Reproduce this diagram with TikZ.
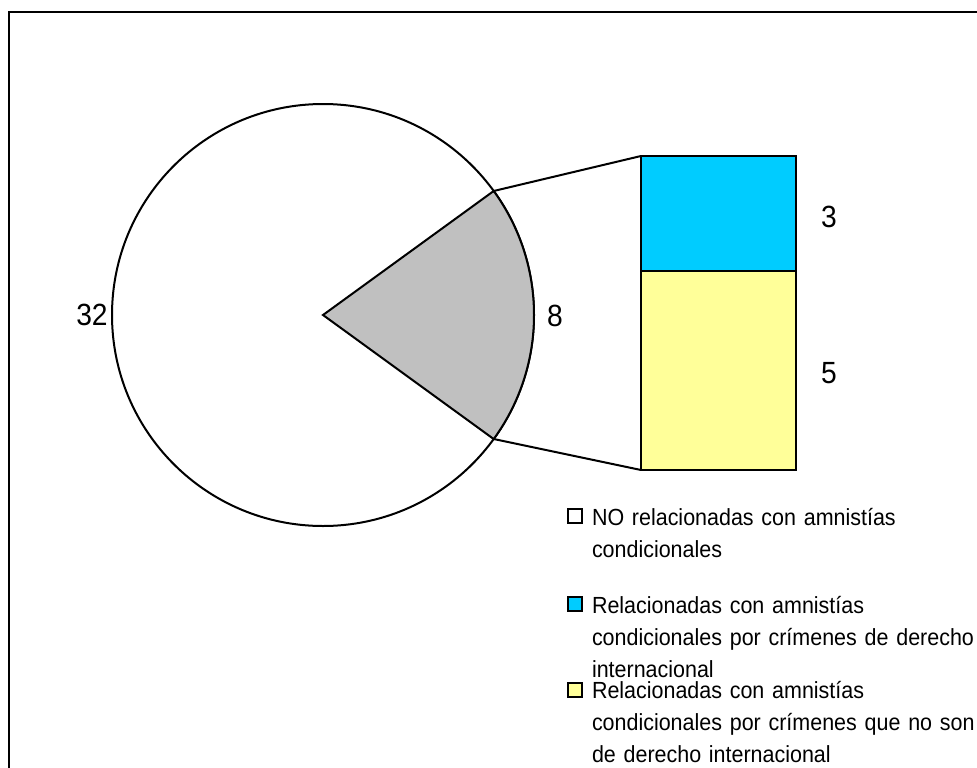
\documentclass[tikz,border=0pt]{standalone}
\usepackage{fontspec}
\setmainfont{Liberation Sans}[FakeStretch=0.92]
\definecolor{slicegray}{HTML}{C0C0C0}
\definecolor{barblue}{HTML}{00CCFF}
\definecolor{baryellow}{HTML}{FFFF99}
\begin{document}
\begin{tikzpicture}[x=0.75pt,y=-0.75pt,line width=1.5pt,
    numlabel/.style={font=\fontsize{23}{23}\selectfont},
    legbox/.style={draw,line width=1.5pt,minimum size=11pt,inner sep=0pt},
    legtext/.style={font=\fontsize{17.5}{24}\selectfont,anchor=base west,inner sep=0pt,
        text width=400pt,align=left}]
    \useasboundingbox (0,0) rectangle (977,767);
    \draw[line width=2pt] (9,12) rectangle (995,790);

    % pie
    \coordinate (c) at (323,315);
    \coordinate (slicetop) at (493.7,191);
    \coordinate (slicebot) at (493.7,439);
    \draw[fill=white] (c) circle (211);
    \draw[fill=slicegray] (c) -- (slicetop) arc[start angle=-36,end angle=36,radius=211] -- cycle;
    \node[numlabel] (n32) at (92,315) {32};
    \node[numlabel] (n8) at (555,316) {8};

    % bar
    \coordinate (bartop) at (641,156);
    \coordinate (barbot) at (641,470);
    \draw[fill=barblue] (bartop) rectangle (796,271);
    \draw[fill=baryellow] (641,271) rectangle (796,470);
    \draw (slicetop) -- (bartop);
    \draw (slicebot) -- (barbot);
    \node[numlabel] (n3) at (829,217) {3};
    \node[numlabel] (n5) at (829,373) {5};

    % legend
    \node[legbox,fill=white] (k1) at (575,516) {};
    \node[legtext] (t1) at (591,525) {NO relacionadas con amnistías\\condicionales};
    \node[legbox,fill=barblue] (k2) at (575,604) {};
    \node[legtext] (t2) at (591,613) {Relacionadas con amnistías\\condicionales por crímenes de derecho\\internacional};
    \node[legbox,fill=baryellow] (k3) at (575,690) {};
    \node[legtext] (t3) at (591,698) {Relacionadas con amnistías\\condicionales por crímenes que no son\\de derecho internacional};
\end{tikzpicture}
\end{document}
